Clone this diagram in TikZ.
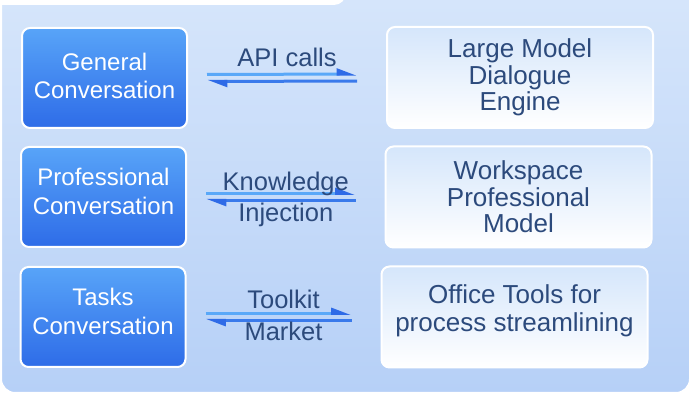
\documentclass[tikz,border=0pt]{standalone}
\usepackage{fontspec}
\setmainfont{Liberation Sans}
\usetikzlibrary{arrows.meta}

\definecolor{panetop}{HTML}{D8E7FB}
\definecolor{panebot}{HTML}{B6D0F7}
\definecolor{chatlight}{HTML}{58A4F8}
\definecolor{chatdark}{HTML}{2E6CE8}
\definecolor{enginetop}{HTML}{D5E6FB}
\definecolor{inktext}{HTML}{2C4A7C}
\definecolor{arrowlight}{HTML}{5AA8F8}
\definecolor{arrowdark}{HTML}{2F6BE7}

\begin{document}
\begin{tikzpicture}[x=1pt,y=1pt,
    chatbox/.style={draw=white, line width=2pt, rounded corners=8pt,
        top color=chatlight, bottom color=chatdark,
        minimum width=165pt, minimum height=100pt,
        text=white, align=center, font=\fontsize{24}{28.5}\selectfont},
    enginetext/.style={text=inktext, align=center, font=\fontsize{26}{26.5}\selectfont},
    enginebox/.style={enginetext, draw=white, line width=2pt, rounded corners=8pt,
        top color=enginetop, bottom color=white,
        minimum width=266pt, minimum height=101pt},
    linktext/.style={text=inktext, font=\fontsize{25.5}{28}\selectfont,
        inner sep=0pt, text height=19pt, text depth=5pt},
    callto/.style={line width=3pt, arrowlight,
        -{Triangle[left, length=16pt, width=11pt, color=arrowdark]},
        shorten <=19pt, shorten >=29pt},
    callback/.style={line width=3pt, arrowdark!75!arrowlight,
        -{Triangle[left, length=16pt, width=11pt, color=arrowdark]},
        shorten <=29pt, shorten >=19pt}]

\clip (0,0) rectangle (693,395);
\fill[white] (0,0) rectangle (693,395);

% panel and header tab
\shadedraw[top color=panetop, bottom color=panebot, draw=white, line width=2pt,
    rounded corners=14pt] (1,2) rectangle (690,430);
\fill[white, rounded corners=12pt] (-20,390) rectangle (346,440);

% conversation types
\node[chatbox, text depth=4pt] (gen) at (104.5,317) {General\\Conversation};
\node[chatbox, text depth=11pt] (pro) at (103.5,198) {Professional\\Conversation};
\node[chatbox, text depth=11pt] (task) at (103,78) {Tasks\\Conversation};

% engines
\node[enginebox] (llm) at (520,317.5) {Large Model\\Dialogue\\Engine};
\node[enginebox] (wsp) at (518.5,198) {Workspace\\Professional\\Model};
\node[enginebox] (off) at (514.5,78) {};
\node[enginetext, font=\fontsize{26}{28}\selectfont] (offtext) at ([yshift=6]off.center) {Office Tools for\\process streamlining};

% links
\draw[callto] ([yshift=3.5]gen.east) -- node[linktext, above=1pt] (apilbl) {API calls} ([yshift=3.5]llm.west);
\draw[callback] ([yshift=-3.5]llm.west) -- ([yshift=-3.5]gen.east);

\draw[callto] ([yshift=3.5]pro.east) -- node[linktext, above=-4pt] (knowlbl) {Knowledge} ([yshift=3.5]wsp.west);
\draw[callback] ([yshift=-3.5]wsp.west) -- node[linktext, below=1pt] (injlbl) {Injection} ([yshift=-3.5]pro.east);

\draw[callto] ([yshift=3.5]task.east) -- node[linktext, above=-2pt] (toollbl) {Toolkit} ([yshift=3.5]off.west);
\draw[callback] ([yshift=-3.5]off.west) -- node[linktext, below=0pt] (marklbl) {Market} ([yshift=-3.5]task.east);

\end{tikzpicture}
\end{document}
